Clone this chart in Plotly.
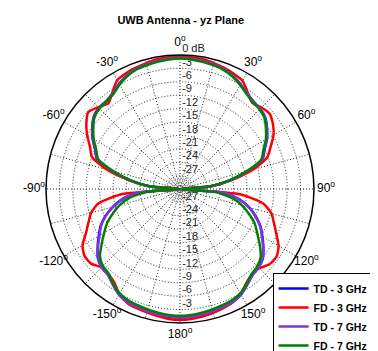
import plotly.graph_objects as go

# Angles (degrees, clockwise from top)
theta = [-180, -175, -170, -165, -160, -155, -150, -145, -140, -135, -130, -125,
         -120, -115, -110, -105, -100, -95, -90, -85, -80, -75, -70, -65,
         -60, -55, -50, -45, -40, -35, -30, -25, -20, -15, -10, -5,
         0, 5, 10, 15, 20, 25, 30, 35, 40, 45, 50, 55,
         60, 65, 70, 75, 80, 85, 90, 95, 100, 105, 110, 115,
         120, 125, 130, 135, 140, 145, 150, 155, 160, 165, 170, 175, 180]

# Normalised gain in dB
td_3ghz = [-1.2, -1.3, -1.5, -1.7, -1.9, -2.1, -2.7, -3.9, -4.9, -5.2, -6.0, -7.5,
           -9.0, -10.4, -12.2, -14.4, -16.8, -20.5, -30, -23.0, -18.4, -14.1, -10.2, -9.0,
           -7.4, -6.0, -4.8, -4.3, -4.3, -3.8, -2.8, -1.9, -1.3, -1.1, -0.9, -0.7,
           -0.6, -0.7, -0.9, -1.1, -1.4, -2.0, -2.9, -3.8, -4.4, -4.6, -5.1, -6.2,
           -7.5, -9.1, -10.3, -14.1, -18.4, -23.0, -30, -20.0, -16.4, -13.9, -11.9, -10.1,
           -8.7, -7.2, -5.8, -5.1, -4.8, -3.8, -2.7, -2.1, -1.9, -1.7, -1.5, -1.3, -1.2]

fd_3ghz = [-0.7, -0.8, -1.1, -1.4, -1.6, -1.9, -2.8, -4.4, -5.1, -5.2, -4.0, -3.9,
           -4.8, -6.8, -8.2, -9.4, -11.5, -17.0, -30, -23.0, -18.3, -13.0, -9.0, -7.8,
           -6.0, -4.4, -3.2, -4.1, -5.0, -3.6, -1.9, -1.4, -1.1, -0.8, -0.5, -0.4,
           -0.3, -0.4, -0.5, -0.8, -1.1, -1.5, -2.0, -3.6, -4.8, -4.2, -3.8, -4.6,
           -5.8, -7.6, -9.2, -13.0, -18.0, -23.0, -30, -16.5, -11.0, -8.8, -7.6, -6.2,
           -4.5, -3.6, -3.8, -4.9, -5.0, -4.2, -2.8, -2.0, -1.6, -1.3, -1.0, -0.8, -0.7]

td_7ghz = [-1.3, -1.4, -1.5, -1.7, -1.9, -2.1, -2.7, -3.8, -4.9, -5.2, -6.0, -7.6,
           -9.2, -10.5, -12.3, -14.5, -17.0, -20.5, -30, -23.0, -18.5, -14.2, -10.3, -9.1,
           -7.5, -6.1, -4.9, -4.4, -4.3, -3.8, -2.8, -1.9, -1.3, -1.1, -0.9, -0.7,
           -0.6, -0.7, -0.9, -1.1, -1.4, -2.0, -2.9, -3.8, -4.4, -4.6, -5.1, -6.3,
           -7.6, -9.2, -10.4, -14.2, -18.5, -23.0, -30, -20.0, -16.5, -14.0, -12.0, -10.2,
           -8.8, -7.3, -5.8, -5.1, -4.8, -3.8, -2.7, -2.1, -1.9, -1.7, -1.5, -1.3, -1.3]

fd_7ghz = [-1.6, -1.7, -1.9, -2.1, -2.3, -2.5, -3.0, -4.0, -5.2, -5.6, -6.6, -8.6,
           -10.4, -12.0, -14.0, -16.0, -18.5, -22.5, -30, -23.5, -18.8, -14.5, -10.5, -9.3,
           -7.7, -6.3, -5.0, -4.5, -4.4, -4.0, -3.0, -2.1, -1.5, -1.3, -1.1, -0.9,
           -0.8, -0.9, -1.1, -1.3, -1.6, -2.2, -3.1, -4.0, -4.6, -4.8, -5.3, -6.5,
           -7.8, -9.4, -10.6, -14.5, -18.8, -23.5, -30, -22.0, -18.0, -15.5, -13.5, -11.5,
           -10.0, -8.2, -6.4, -5.5, -5.1, -4.0, -3.0, -2.5, -2.3, -2.1, -1.9, -1.7, -1.6]

series_names = ["TD - 3 GHz", "FD - 3 GHz", "TD - 7 GHz", "FD - 7 GHz"]
series_values = [td_3ghz, fd_3ghz, td_7ghz, fd_7ghz]
series_colors = ["#0000ff", "#ff0000", "#8033e6", "#008000"]

# Radial (dB) labels
db_levels = [0, -3, -6, -9, -12, -15, -18, -21, -24, -27]
db_labels = ["\u20090 dB", "\u2009-3", "\u2009-6", "\u2009-9", "\u2009-12",
             "\u2009-15", "\u2009-18", "\u2009-21", "\u2009-24", "\u2009-27"]
db_labels_low = ["", "\u2009-3", "\u2009-6", "\u2009-9", "\u2009-12",
                 "\u2009-15", "\u2009-18", "\u2009-21", "\u2009-24", "\u2009-27"]

# Angular labels (every 30 degrees); grid spokes every 15 degrees
ang_label_vals = [0, 30, 60, 90, 120, 150, 180, 210, 240, 270, 300, 330]
ang_label_text = ["0<sup>o</sup>", "30<sup>o</sup>", "60<sup>o</sup>", "90<sup>o</sup>",
                  "120<sup>o</sup>", "150<sup>o</sup>", "180<sup>o</sup>", "-150<sup>o</sup>",
                  "-120<sup>o</sup>", "-90<sup>o</sup>", "-60<sup>o</sup>", "-30<sup>o</sup>"]
ang_grid = [0, 15, 30, 45, 60, 75, 90, 105, 120, 135, 150, 165,
            180, 195, 210, 225, 240, 255, 270, 285, 300, 315, 330, 345]

radial_grid = [-29.4, -28.8, -28.2, -27.6, -27, -24, -21, -18, -15, -12, -9, -6, -3, 0]

fig = go.Figure()

fig.add_trace(go.Scatterpolar(
    r=db_levels, theta=[0] * len(db_levels), mode="text", text=db_labels,
    textposition="top right", textfont=dict(size=11, color="#222"),
    showlegend=False, hoverinfo="skip"))
fig.add_trace(go.Scatterpolar(
    r=db_levels, theta=[180] * len(db_levels), mode="text", text=db_labels_low,
    textposition="top right", textfont=dict(size=11, color="#222"),
    showlegend=False, hoverinfo="skip"))

for name, vals, col in zip(series_names, series_values, series_colors):
    fig.add_trace(go.Scatterpolar(
        r=vals, theta=theta, mode="lines", name=name,
        line=dict(color=col, width=2.5, shape="spline", smoothing=0.6)))

# Angle labels on a concentric, invisible label ring
fig.add_trace(go.Scatterpolar(
    r=[1] * len(ang_label_vals), theta=ang_label_vals, mode="text",
    text=ang_label_text, textposition="middle center",
    textfont=dict(size=12, color="black"), subplot="polar2",
    showlegend=False, hoverinfo="skip"))

fig.update_layout(
    width=378, height=351,
    margin=dict(l=0, r=0, t=0, b=0, autoexpand=False),
    paper_bgcolor="white",
    font=dict(family="Liberation Sans, Arial, sans-serif", size=12, color="black"),
    title=dict(text="<b>UWB Antenna - yz Plane</b>", x=0.457, y=0.965,
               xanchor="center", yanchor="middle", font=dict(size=11)),
    polar=dict(
        domain=dict(x=[0.1005, 0.8095], y=[0.1026, 0.866]),
        bgcolor="white",
        angularaxis=dict(rotation=90, direction="clockwise",
                         tickmode="array", tickvals=ang_grid,
                         showticklabels=False,
                         showline=True, linecolor="black", linewidth=1.5,
                         gridcolor="#222", griddash="1px,2px", gridwidth=1,
                         ticks=""),
        radialaxis=dict(range=[-30, 0], tickmode="array", tickvals=radial_grid,
                        showticklabels=False, showline=False, ticks="",
                        gridcolor="#222", griddash="1px,2px", gridwidth=1, angle=90),
    ),
    polar2=dict(
        domain=dict(x=[0.0495, 0.8606], y=[0.0476, 0.9211]),
        bgcolor="rgba(0,0,0,0)",
        angularaxis=dict(rotation=90, direction="clockwise", showticklabels=False,
                         showline=False, showgrid=False, ticks=""),
        radialaxis=dict(range=[0, 1.05], visible=False, showgrid=False),
    ),
    legend=dict(x=0.70, y=-0.006, xanchor="left", yanchor="bottom",
                bordercolor="black", borderwidth=1, bgcolor="white",
                font=dict(size=10.5, weight="bold"), itemwidth=30, tracegroupgap=0),
)

fig.write_html("out.html")
